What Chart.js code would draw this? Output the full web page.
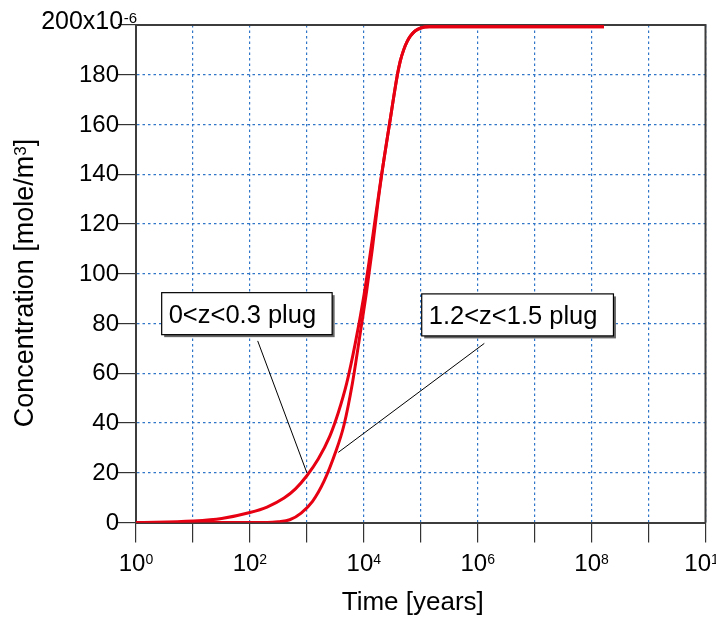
<!DOCTYPE html>
<html>
<head>
<meta charset="utf-8">
<script src="https://cdn.jsdelivr.net/npm/chart.js@4.4.1/dist/chart.umd.min.js"></script>
<style>
  html, body { margin: 0; padding: 0; background: #fff; }
  #wrap { width: 716px; height: 623px; }
</style>
</head>
<body>
<div id="wrap"><canvas id="concChart" width="716" height="623"></canvas></div>
<script>
// time in years, concentration in units of 1e-6 mole/m3
var timeA = [1, 10, 32, 100, 200, 398, 631, 1000, 1585, 2512, 3548, 5012, 7079, 10000, 12589, 15849, 19953, 28184, 38905, 43652, 50119, 57544, 66069, 79433, 100000, 141254, 1.65e8];
var concA = [0, 0.6, 1.6, 4.0, 6.2, 9.8, 13.5, 18.8, 25.5, 34.5, 44, 56, 72, 91, 106, 122, 138, 160, 180, 185.5, 190, 193.3, 195.6, 197.6, 198.8, 199.3, 199.3];

var timeB = [1, 100, 200, 316, 501, 794, 1259, 1995, 3162, 4467, 6310, 8913, 11220, 14125, 17783, 22387, 28184, 38905, 43652, 50119, 57544, 66069, 79433, 100000, 141254, 1.65e8];
var concB = [0, 0, 0, 0.3, 1.1, 3.8, 8.5, 16.5, 28, 39, 56, 78, 93, 110, 129, 145.4, 160, 180, 185.5, 190, 193.3, 195.6, 197.6, 198.8, 199.3, 199.3];

var seriesLabels = ['0<z<0.3 plug', '1.2<z<1.5 plug'];
var decadeExps = [0, 1, 2, 3, 4, 5, 6, 7, 8, 9, 10];
var labelExps = [0, 2, 4, 6, 8, 10];
var yTicks = [0, 20, 40, 60, 80, 100, 120, 140, 160, 180, 200];

var FONT = '"Liberation Sans", Arial, sans-serif';
var GRID_BLUE = 'rgb(48,118,200)';
var AXIS_GREY = '#3c3c3c';
var CURVE_RED = 'rgb(230,0,18)';

function toPoints(xs, ys) {
    return xs.map(function (x, i) { return { x: x, y: ys[i] }; });
}

// callout boxes (top-left corner) and leader lines, in data units
var callouts = [
    { text: seriesLabels[0], box: [Math.pow(10, 0.451), 92.4], tail: [Math.pow(10, 2.137), 73.0], tip: [1000, 20] },
    { text: seriesLabels[1], box: [Math.pow(10, 5.017), 91.9], tail: [Math.pow(10, 6.116), 72.0], tip: [Math.pow(10, 3.552), 28.2] }
];

var decorations = {
    id: 'decorations',
    beforeDatasetsDraw: function (chart) {
        var a = chart.chartArea, ctx = chart.ctx;
        // top and right frame
        ctx.save();
        ctx.strokeStyle = AXIS_GREY;
        ctx.lineWidth = 2;
        ctx.beginPath();
        ctx.moveTo(a.left, a.top);
        ctx.lineTo(a.right, a.top);
        ctx.lineTo(a.right, a.bottom);
        ctx.stroke();
        ctx.restore();
    },
    afterDraw: function (chart) {
        var ctx = chart.ctx, xs = chart.scales.x, ys = chart.scales.y, a = chart.chartArea;
        ctx.save();
        ctx.fillStyle = '#000';
        ctx.textBaseline = 'alphabetic';

        // y tick labels
        yTicks.forEach(function (v) {
            var py = ys.getPixelForValue(v);
            ctx.textAlign = 'right';
            if (v === 200) {
                ctx.font = '15px ' + FONT;
                var supW = ctx.measureText('-6').width;
                ctx.fillText('-6', a.left + 1, py - 2.5);
                ctx.font = '25px ' + FONT;
                ctx.fillText('200x10', a.left + 0.5 - supW, py + 4.3);
            } else {
                ctx.font = '24px ' + FONT;
                ctx.fillText(String(v), a.left - 17, py + 7);
            }
        });

        // x tick labels, 10^n
        ctx.textAlign = 'left';
        labelExps.forEach(function (e) {
            var px = xs.getPixelForValue(Math.pow(10, e));
            ctx.font = '24px ' + FONT;
            var bw = ctx.measureText('10').width;
            ctx.font = '14px ' + FONT;
            var sw = ctx.measureText(String(e)).width;
            var x0 = px - (bw + sw) / 2;
            ctx.font = '24px ' + FONT;
            ctx.fillText('10', x0, a.bottom + 48);
            ctx.font = '14px ' + FONT;
            ctx.fillText(String(e), x0 + bw, a.bottom + 41);
        });

        // axis titles
        ctx.font = '26px ' + FONT;
        ctx.textAlign = 'center';
        ctx.fillText('Time [years]', (a.left + a.right) / 2 - 8, 610);

        ctx.save();
        ctx.translate(33, 283);
        ctx.rotate(-Math.PI / 2);
        ctx.textAlign = 'left';
        var t1 = 'Concentration [mole/m', t2 = '3', t3 = ']';
        ctx.font = '27px ' + FONT;
        var w1 = ctx.measureText(t1).width, w3 = ctx.measureText(t3).width;
        ctx.font = '17px ' + FONT;
        var w2 = ctx.measureText(t2).width;
        var sx = -(w1 + w2 + w3) / 2;
        ctx.font = '27px ' + FONT;
        ctx.fillText(t1, sx, 0);
        ctx.font = '17px ' + FONT;
        ctx.fillText(t2, sx + w1, -7.5);
        ctx.font = '27px ' + FONT;
        ctx.fillText(t3, sx + w1 + w2, 0);
        ctx.restore();

        // callouts
        ctx.font = '25.5px ' + FONT;
        ctx.textAlign = 'left';
        callouts.forEach(function (c) {
            var bx = xs.getPixelForValue(c.box[0]), by = ys.getPixelForValue(c.box[1]);
            var bw = ctx.measureText(c.text).width + 23, bh = 42;
            ctx.fillStyle = '#666';
            ctx.fillRect(bx + 2.5, by + 2.5, bw, bh);
            ctx.fillStyle = '#fff';
            ctx.fillRect(bx, by, bw, bh);
            ctx.strokeStyle = '#000';
            ctx.lineWidth = 1.2;
            ctx.strokeRect(bx, by, bw, bh);
            ctx.fillStyle = '#000';
            ctx.fillText(c.text, bx + 7, by + 30);

            ctx.lineWidth = 1;
            ctx.beginPath();
            ctx.moveTo(xs.getPixelForValue(c.tail[0]), ys.getPixelForValue(c.tail[1]));
            ctx.lineTo(xs.getPixelForValue(c.tip[0]), ys.getPixelForValue(c.tip[1]));
            ctx.stroke();
        });
        ctx.restore();
    }
};

var ctxConc = document.getElementById('concChart').getContext('2d');

var concChart = new Chart(ctxConc, {
    type: 'line',
    data: {
        datasets: [{
            label: seriesLabels[0],
            data: toPoints(timeA, concA),
            borderColor: CURVE_RED,
            borderWidth: 3,
            pointRadius: 0,
            fill: false,
            cubicInterpolationMode: 'monotone'
        }, {
            label: seriesLabels[1],
            data: toPoints(timeB, concB),
            borderColor: CURVE_RED,
            borderWidth: 3,
            pointRadius: 0,
            fill: false,
            cubicInterpolationMode: 'monotone'
        }]
    },
    options: {
        responsive: false,
        animation: false,
        layout: { padding: { top: 25, right: 10.5, left: 0, bottom: 0 } },
        plugins: {
            legend: { display: false },
            tooltip: { enabled: false }
        },
        scales: {
            x: {
                type: 'logarithmic',
                min: 1,
                max: 1e10,
                afterBuildTicks: function (scale) {
                    scale.ticks = decadeExps.map(function (e) { return { value: Math.pow(10, e) }; });
                },
                afterFit: function (scale) { scale.height = 100.5; },
                ticks: { display: false },
                grid: {
                    color: GRID_BLUE,
                    lineWidth: 1.2,
                    drawTicks: true,
                    tickLength: 20,
                    tickColor: '#333',
                    tickWidth: 1.2
                },
                border: { display: true, color: AXIS_GREY, width: 2, dash: [2.5, 3] }
            },
            y: {
                min: 0,
                max: 200,
                afterBuildTicks: function (scale) {
                    scale.ticks = yTicks.map(function (v) { return { value: v }; });
                },
                afterFit: function (scale) { scale.width = 136; },
                ticks: { display: false },
                grid: {
                    color: GRID_BLUE,
                    lineWidth: 1.2,
                    drawTicks: true,
                    tickLength: 18,
                    tickColor: '#333',
                    tickWidth: 1.2
                },
                border: { display: true, color: AXIS_GREY, width: 2, dash: [2.5, 3] }
            }
        }
    },
    plugins: [decorations]
});
</script>
</body>
</html>
